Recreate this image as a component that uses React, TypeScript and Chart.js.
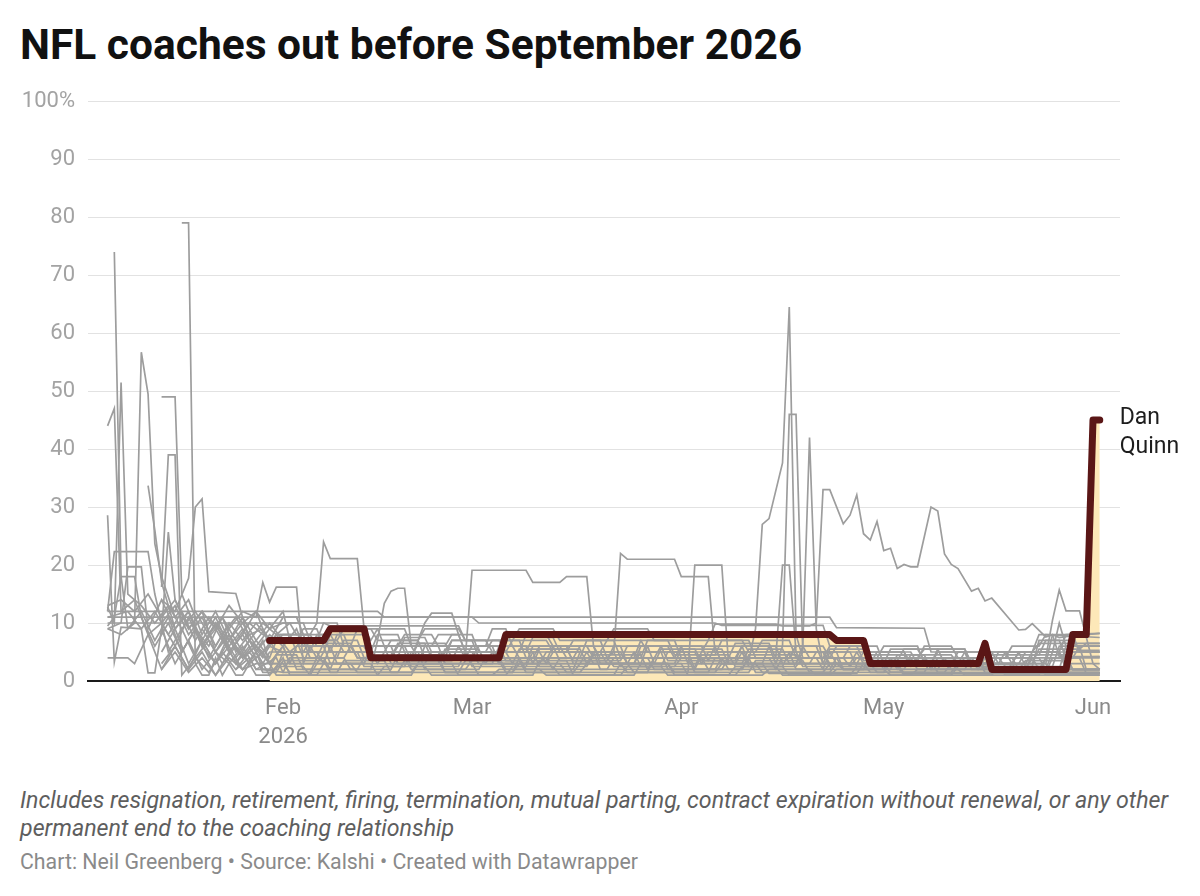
import React, { useEffect, useRef } from "react";
import { Chart, registerables } from "chart.js";

Chart.register(...registerables);

// x values are day-of-year 2026 (Jan 1 = 1, Feb 1 = 32, Mar 1 = 60, Apr 1 = 91, May 1 = 121, Jun 1 = 152)
const monthTickDays = [32, 60, 91, 121, 152];
const monthTickLabels: (string | string[])[] = [["Feb", "2026"], "Mar", "Apr", "May", "Jun"];
const yTickValues = [0, 10, 20, 30, 40, 50, 60, 70, 80, 90, 100];

const highlightName = ["Dan", "Quinn"];
const danQuinn = [[30, 7], [38, 7], [39, 9], [44, 9], [45, 4], [64, 4], [65, 8], [113, 8], [114, 7], [118, 7], [119, 3], [135, 3], [136, 6.5], [137, 2], [148, 2], [149, 8], [151, 8], [152, 45], [153, 45]];

const s01 = [[6, 44], [7, 47], [8, 12], [10, 14], [12, 8], [14, 10], [15, 5], [17, 9], [19, 4], [21, 7], [23, 3], [25, 6], [27, 3], [29, 7], [30, 3], [33, 3], [34, 6], [38, 6], [39, 3], [46, 3], [47, 5], [52, 5], [53, 2], [61, 2], [62, 4], [69, 4], [70, 6], [74, 6], [75, 3], [83, 3], [84, 5], [88, 5], [89, 2], [97, 2], [98, 4], [104, 4], [105, 2], [112, 2], [113, 5], [117, 5], [118, 3], [128, 3], [129, 5], [133, 5], [134, 2], [142, 2], [143, 4], [149, 4], [150, 6], [153, 6]];
const s02 = [[6, 28.6], [7, 3.3], [8, 9.3], [11, 9], [12, 1.4], [13, 1.4], [14, 9], [16, 3], [18, 7], [20, 2], [22, 5], [24, 3], [26, 6], [28, 2], [31, 4], [32, 1.5], [36, 1.5], [37, 4], [41, 4], [42, 2], [48, 2], [49, 4.5], [55, 4.5], [56, 1.5], [66, 1.5], [67, 3], [73, 3], [74, 1.5], [86, 1.5], [87, 4], [92, 4], [93, 1.5], [101, 1.5], [102, 3.5], [109, 3.5], [110, 1.5], [121, 1.5], [122, 3.5], [128, 3.5], [129, 1.5], [139, 1.5], [140, 3], [145, 3], [146, 1.3], [153, 1.3]];
const s03 = [[7, 74], [8, 18], [9, 9], [11, 12], [13, 7], [15, 11], [17, 5], [19, 9], [21, 6], [23, 11], [25, 5], [27, 8], [29, 9], [31, 5], [35, 5], [36, 7], [40, 7], [41, 5], [47, 5], [48, 7], [52, 7], [53, 4], [60, 4], [61, 6], [66, 6], [67, 4], [76, 4], [77, 7], [81, 7], [82, 4], [90, 4], [91, 6], [96, 6], [97, 3], [103, 3], [104, 6], [109, 6], [110, 4], [115, 4], [116, 2.5], [124, 2.5], [125, 4.5], [131, 4.5], [132, 3], [140, 3], [141, 5], [147, 5], [148, 8], [153, 8.2]];
const s04 = [[6, 12.8], [7, 10], [8, 51.5], [9, 15], [11, 13], [13, 10], [15, 13], [17, 9], [19, 12], [21, 8], [23, 11], [25, 7], [27, 10], [29, 8], [31, 7], [32, 8], [36, 8], [37, 6], [42, 6], [43, 9], [46, 9], [47, 6], [54, 6], [55, 8], [58, 8], [59, 5], [65, 5], [66, 7], [71, 7], [72, 5], [79, 5], [80, 7], [85, 7], [86, 5], [94, 5], [95, 7], [100, 7], [101, 5], [108, 5], [109, 3], [116, 3], [117, 5], [124, 5], [125, 3], [136, 3], [137, 4.5], [144, 4.5], [145, 7], [149, 7], [150, 5.3], [153, 5.3]];
const s05 = [[6, 9], [8, 8], [10, 10], [11, 56.7], [12, 49.5], [13, 23.7], [14, 18], [16, 11], [18, 14], [20, 8], [22, 12], [24, 7], [26, 10], [28, 6], [30, 9], [32, 12], [33, 7], [37, 7], [38, 10], [40, 10], [41, 6], [49, 6], [50, 8], [54, 8], [55, 6], [62, 6], [63, 9], [65, 9], [66, 6], [72, 6], [73, 3.5], [82, 3.5], [83, 6], [89, 6], [90, 4], [98, 4], [99, 6.5], [104, 6.5], [105, 4], [112, 4], [113, 6], [118, 6], [119, 4], [127, 4], [128, 2.5], [137, 2.5], [138, 5], [143, 5], [144, 8], [146, 8], [147, 4.2], [153, 4.2]];
const s06 = [[12, 33.7], [13, 26], [14, 17], [16, 9], [18, 12], [20, 6], [22, 10], [24, 5], [26, 8], [28, 4], [30, 6], [32, 5], [36, 5], [37, 8], [39, 8], [40, 6], [44, 6], [45, 4], [51, 4], [52, 6.5], [56, 6.5], [57, 4], [64, 4], [65, 2], [72, 2], [73, 4], [80, 4], [81, 2.5], [88, 2.5], [89, 5], [93, 5], [94, 3], [100, 3], [101, 5.5], [106, 5.5], [107, 3], [114, 3], [115, 2], [124, 2], [125, 4], [130, 4], [131, 2], [141, 2], [142, 3.5], [148, 3.5], [149, 1.9], [153, 1.9]];
const s07 = [[14, 49], [16, 49], [17, 15], [18, 12], [20, 7], [22, 11], [24, 6], [26, 9], [28, 5], [30, 8], [32, 6], [34, 9], [35, 6], [39, 6], [40, 3], [44, 3], [45, 6], [50, 6], [51, 3.5], [57, 3.5], [58, 6], [63, 6], [64, 3], [70, 3], [71, 5], [77, 5], [78, 3], [85, 3], [86, 6], [91, 6], [92, 3], [99, 3], [100, 5], [107, 5], [108, 2], [113, 2], [114, 4], [120, 4], [121, 6], [126, 6], [127, 3], [135, 3], [136, 5], [141, 5], [142, 2.5], [148, 2.5], [149, 5], [153, 5]];
const s08 = [[14, 16.2], [15, 39], [16, 39], [17, 1], [19, 4], [21, 1.5], [23, 5], [25, 2], [27, 4], [28, 2], [30, 2], [31, 4.5], [34, 4.5], [35, 2], [43, 2], [44, 4], [50, 4], [51, 2], [59, 2], [60, 3.5], [67, 3.5], [68, 1.5], [76, 1.5], [77, 3], [83, 3], [84, 1.5], [95, 1.5], [96, 4], [101, 4], [102, 1.5], [113, 1.5], [114, 3], [119, 3], [120, 1.5], [130, 1.5], [131, 3], [137, 3], [138, 1.5], [153, 1.5]];
const s09 = [[17, 79], [18, 79], [19, 3], [20, 1], [21, 1], [22, 4], [23, 1], [24, 3], [25, 1], [26, 1], [27, 3], [28, 1], [30, 1], [31, 2.5], [35, 2.5], [36, 1], [46, 1], [47, 2.5], [53, 2.5], [54, 1], [63, 1], [64, 2], [70, 2], [71, 1], [82, 1], [83, 2.5], [88, 2.5], [89, 1], [103, 1], [104, 2], [110, 2], [111, 1], [125, 1], [126, 2], [132, 2], [133, 1], [153, 1]];
const s10 = [[14, 14], [16, 12], [18, 17.7], [19, 30], [20, 31.4], [21, 15.4], [25, 15.1], [26, 11], [27, 7], [29, 5], [31, 8], [33, 5], [35, 7], [36, 4], [40, 4], [41, 7], [43, 7], [44, 4], [49, 4], [50, 7.5], [53, 7.5], [54, 5], [60, 5], [61, 3], [66, 3], [67, 5.5], [74, 5.5], [75, 3.5], [80, 3.5], [81, 6], [86, 6], [87, 3], [94, 3], [95, 5], [102, 5], [103, 7], [107, 7], [108, 4], [113, 4], [114, 6], [117, 6], [118, 3.5], [123, 3.5], [124, 5.5], [129, 5.5], [130, 3], [138, 3], [139, 5], [143, 5], [144, 6.5], [153, 6.5]];
const s11 = [[6, 12], [7, 22.3], [12, 22.3], [13, 15], [14, 10], [16, 13], [18, 8], [20, 11], [22, 6], [24, 10], [26, 7], [28, 10], [30, 7], [32, 11], [34, 11], [35, 8], [38, 8], [39, 5], [45, 5], [46, 8], [49, 8], [50, 5], [56, 5], [57, 7], [62, 7], [63, 5], [68, 5], [69, 7.5], [72, 7.5], [73, 5], [79, 5], [80, 3], [87, 3], [88, 5.5], [93, 5.5], [94, 3.5], [99, 3.5], [100, 6], [105, 6], [106, 3], [112, 3], [113, 5.5], [118, 5.5], [119, 4], [125, 4], [126, 2], [133, 2], [134, 4], [140, 4], [141, 2], [145, 2], [146, 5], [153, 5]];
const s12 = [[14, 8], [15, 25.7], [16, 14], [18, 9], [20, 12], [22, 5], [24, 9], [26, 12], [28, 11], [29, 17], [30, 13.6], [31, 16.2], [34, 16.2], [35, 3], [36, 6], [37, 4], [38, 6.5], [42, 6.5], [43, 4], [48, 4], [49, 6], [55, 6], [56, 3], [62, 3], [63, 5], [69, 5], [70, 2.5], [77, 2.5], [78, 4.5], [85, 4.5], [86, 2], [93, 2], [94, 4.5], [98, 4.5], [99, 2.5], [106, 2.5], [107, 5], [112, 5], [113, 3], [121, 3], [122, 5.5], [126, 5.5], [127, 3.5], [134, 3.5], [135, 2], [142, 2], [143, 4.5], [148, 4.5], [149, 2], [153, 2]];
const s13 = [[6, 11], [9, 12], [11, 9], [13, 12], [15, 8], [17, 12], [19, 7], [21, 11], [23, 8], [25, 11], [27, 7], [29, 10], [31, 8], [33, 10], [34, 8], [36, 8], [37, 10], [38, 24], [39, 21.1], [43, 21.1], [44, 9], [45, 7], [46, 9], [50, 9], [51, 6], [56, 6], [57, 8], [60, 8], [61, 5], [67, 5], [68, 8], [71, 8], [72, 6], [78, 6], [79, 4], [85, 4], [86, 7], [90, 7], [91, 4], [99, 4], [100, 6], [104, 6], [105, 3], [110, 3], [111, 5], [116, 5], [117, 2.5], [125, 2.5], [126, 4], [134, 4], [135, 2.5], [143, 2.5], [144, 7], [147, 7], [148, 4], [153, 4]];
const s14 = [[25, 2], [27, 5], [29, 2], [32, 1.5], [33, 4], [38, 4], [39, 2], [45, 2], [46, 7], [47, 13.4], [48, 15.5], [49, 16], [50, 16], [51, 6], [52, 4], [56, 4], [57, 7], [60, 7], [61, 4], [67, 4], [68, 2], [75, 2], [76, 5], [81, 5], [82, 2.5], [90, 2.5], [91, 4], [97, 4], [98, 2], [105, 2], [106, 4], [111, 4], [112, 2], [118, 2], [119, 4.5], [124, 4.5], [125, 2.5], [132, 2.5], [133, 4], [138, 4], [139, 2.5], [146, 2.5], [147, 6], [150, 6], [151, 2], [153, 2]];
const s15 = [[20, 6], [22, 3], [24, 7], [26, 4], [28, 6], [30, 3], [32, 6], [33, 3], [38, 3], [39, 6], [44, 6], [45, 4], [51, 4], [52, 7], [53, 10], [54, 11.7], [57, 11.7], [58, 8], [59, 5], [63, 5], [64, 3], [69, 3], [70, 5.5], [76, 5.5], [77, 3], [84, 3], [85, 5], [92, 5], [93, 2], [100, 2], [101, 4], [107, 4], [108, 6], [112, 6], [113, 4], [120, 4], [121, 2], [128, 2], [129, 4], [135, 4], [136, 2], [144, 2], [145, 4], [150, 4], [151, 1.3], [153, 1.3]];
const s16 = [[25, 4], [27, 7], [29, 3], [30, 5], [33, 5], [34, 2], [39, 2], [40, 5], [45, 5], [46, 3], [52, 3], [53, 6], [58, 6], [59, 4], [60, 19.1], [68, 19.1], [69, 17], [73, 17], [74, 18], [77, 18], [78, 6], [79, 3], [84, 3], [85, 6], [88, 6], [89, 3.5], [95, 3.5], [96, 6], [100, 6], [101, 3], [108, 3], [109, 5], [114, 5], [115, 2], [122, 2], [123, 4.5], [127, 4.5], [128, 2], [136, 2], [137, 4], [144, 4], [145, 2], [153, 2]];
const s17 = [[14, 3], [16, 6], [18, 2], [20, 7], [22, 3], [24, 6], [26, 2], [28, 5], [29, 2], [31, 2], [32, 5], [37, 5], [38, 3], [44, 3], [45, 6], [48, 6], [49, 3], [55, 3], [56, 5.5], [61, 5.5], [62, 3], [68, 3], [69, 6], [73, 6], [74, 4], [80, 4], [81, 5], [82, 22], [83, 21], [90, 21], [91, 18], [95, 18], [96, 5], [100, 5], [101, 2.5], [108, 2.5], [109, 4], [115, 4], [116, 6], [120, 6], [121, 3], [128, 3], [129, 5.5], [133, 5.5], [134, 3], [142, 3], [143, 5], [147, 5], [148, 3], [153, 3]];
const s18 = [[25, 7], [27, 3], [29, 5], [30, 3], [32, 3], [33, 1.5], [40, 1.5], [41, 3.5], [47, 3.5], [48, 1.5], [58, 1.5], [59, 3.5], [64, 3.5], [65, 1.5], [75, 1.5], [76, 3], [82, 3], [83, 1.5], [92, 1.5], [93, 20], [97, 20], [98, 3], [102, 3], [103, 1.5], [112, 1.5], [113, 3], [121, 3], [122, 1.5], [131, 1.5], [132, 3], [140, 3], [141, 1.5], [153, 1.5]];
const s19 = [[20, 9], [22, 5], [24, 8], [26, 4], [28, 7], [30, 4], [31, 7], [34, 7], [35, 4], [41, 4], [42, 6], [47, 6], [48, 3], [53, 3], [54, 5], [59, 5], [60, 2.5], [68, 2.5], [69, 5], [74, 5], [75, 7], [79, 7], [80, 4], [87, 4], [88, 6], [94, 6], [95, 3.5], [101, 3.5], [102, 9], [103, 27], [104, 28], [106, 37.6], [107, 64.5], [108, 8], [109, 4], [114, 4], [115, 2], [121, 2], [122, 4], [126, 4], [127, 5.5], [133, 5.5], [134, 3], [141, 3], [142, 5], [146, 5], [147, 10], [148, 6], [153, 6]];
const s20 = [[14, 10], [16, 6], [18, 11], [20, 6], [22, 9], [24, 5], [26, 8], [28, 12], [30, 6], [31, 8], [33, 8], [34, 5], [38, 5], [39, 8], [41, 8], [42, 5], [48, 5], [49, 3], [55, 3], [56, 5], [62, 5], [63, 7], [67, 7], [68, 4], [75, 4], [76, 6], [82, 6], [83, 3], [90, 3], [91, 5.5], [97, 5.5], [98, 3], [105, 3], [106, 6], [107, 46], [108, 46], [109, 5], [113, 5], [114, 3], [119, 3], [120, 5], [125, 5], [126, 3], [132, 3], [133, 5], [139, 5], [140, 3], [145, 3], [146, 8], [149, 8], [150, 5], [153, 5]];
const s21 = [[25, 3], [27, 6], [29, 1.5], [31, 1.5], [32, 3.5], [38, 3.5], [39, 1.5], [49, 1.5], [50, 3.5], [55, 3.5], [56, 1.5], [66, 1.5], [67, 4], [71, 4], [72, 2], [80, 2], [81, 4], [86, 4], [87, 2], [96, 2], [97, 4], [105, 4], [106, 20], [107, 20], [108, 5], [112, 5], [113, 2.5], [120, 2.5], [121, 4], [127, 4], [128, 2], [135, 2], [136, 4], [143, 4], [144, 2], [153, 2]];
const s22 = [[14, 5], [16, 9], [18, 3], [20, 7], [22, 3], [24, 8], [26, 4], [28, 6], [30, 3], [32, 6], [33, 3], [37, 3], [38, 5], [43, 5], [44, 2.5], [50, 2.5], [51, 5], [55, 5], [56, 3], [63, 3], [64, 6], [68, 6], [69, 3], [76, 3], [77, 5], [84, 5], [85, 2.5], [93, 2.5], [94, 5], [100, 5], [101, 3], [108, 3], [109, 6], [110, 42], [111, 9], [112, 3], [118, 3], [119, 1.5], [127, 1.5], [128, 3.5], [135, 3.5], [136, 1.5], [145, 1.5], [146, 4], [153, 4.2]];
const s23 = [[6, 13], [8, 14], [10, 12], [12, 15], [14, 11], [16, 14], [18, 9], [20, 12], [22, 9], [24, 13], [26, 10], [28, 12], [30, 9], [32, 10], [35, 10], [36, 7], [40, 7], [41, 9], [45, 9], [46, 7], [52, 7], [53, 9], [58, 9], [59, 7], [66, 7], [67, 9], [72, 9], [73, 7], [80, 7], [81, 9], [86, 9], [87, 7], [95, 7], [96, 9.8], [105, 9.8], [106, 9.5], [110, 9.5], [111, 10], [112, 33], [113, 33], [115, 27.1], [116, 28.6], [117, 32.1], [118, 25.4], [119, 24.3], [120, 27.5], [121, 22.5], [122, 22.9], [123, 19.4], [124, 20.1], [125, 19.7], [126, 19.7], [128, 30], [129, 29.3], [130, 21.9], [131, 20.1], [132, 19.4], [134, 15.5], [135, 16], [136, 13.8], [137, 14.3], [141, 8.8], [142, 8.9], [143, 9.9], [145, 7.6], [146, 8], [147, 7.5], [149, 7.8], [151, 8], [153, 8.2]];
const s24 = [[6, 12], [46, 12], [47, 11], [113, 11], [114, 9.2], [127, 9.1], [128, 5], [133, 5], [134, 3], [140, 3], [141, 5], [147, 5], [148, 2], [153, 2]];
const s25 = [[6, 11], [60, 11], [61, 10], [96, 10], [97, 9.6], [112, 9.6], [113, 6], [118, 6], [119, 3.5], [126, 3.5], [127, 6], [131, 6], [132, 4], [139, 4], [140, 6], [144, 6], [145, 8], [153, 7.5]];
const s26 = [[6, 10], [38, 10], [39, 9.5], [58, 9.5], [59, 7], [64, 7], [65, 5], [70, 5], [71, 3], [77, 3], [78, 5], [82, 5], [83, 3], [89, 3], [90, 1.5], [96, 1.5], [97, 3], [103, 3], [104, 1.3], [117, 1.3], [118, 3], [123, 3], [124, 1.3], [153, 1.3]];
const s27 = [[6, 4], [9, 4], [10, 3], [12, 8], [14, 2], [16, 6], [18, 2], [20, 5], [22, 1], [24, 4], [26, 2], [28, 5], [30, 1], [32, 4], [33, 1], [37, 1], [38, 3], [45, 3], [46, 1], [51, 1], [52, 3], [60, 3], [61, 1], [69, 1], [70, 3.5], [74, 3.5], [75, 1], [84, 1], [85, 3], [91, 3], [92, 1], [99, 1], [100, 2.5], [106, 2.5], [107, 1], [116, 1], [117, 2.5], [123, 2.5], [124, 1], [137, 1], [138, 2.5], [144, 2.5], [145, 1], [153, 1]];
const s28 = [[14, 2], [16, 5], [18, 1.5], [20, 4], [22, 1], [24, 5], [26, 2], [28, 3], [30, 3], [31, 1], [36, 1], [37, 3], [42, 3], [43, 1.5], [51, 1.5], [52, 3], [57, 3], [58, 1], [65, 1], [66, 2.5], [72, 2.5], [73, 1], [81, 1], [82, 3], [89, 3], [90, 1], [98, 1], [99, 2.5], [105, 2.5], [106, 1], [113, 1], [114, 2], [121, 2], [122, 1], [131, 1], [132, 2.5], [138, 2.5], [139, 1], [144, 1], [145, 4], [146, 10.5], [147, 15.7], [148, 12.1], [150, 12.1], [151, 7.6], [152, 3], [153, 2]];
const s29 = [[6, 9], [8, 10], [9, 19.7], [11, 19.7], [12, 9], [14, 14], [16, 9], [18, 12], [20, 6], [22, 10], [24, 7], [26, 11], [28, 7], [30, 10], [32, 7], [34, 7], [35, 9], [37, 9], [38, 6], [42, 6], [43, 4], [48, 4], [49, 6.5], [53, 6.5], [54, 4], [59, 4], [60, 6], [64, 6], [65, 3.5], [71, 3.5], [72, 6], [77, 6], [78, 4], [84, 4], [85, 7], [89, 7], [90, 4.5], [96, 4.5], [97, 7], [101, 7], [102, 4], [107, 4], [108, 6], [111, 6], [112, 3], [117, 3], [118, 5], [124, 5], [125, 3], [131, 3], [132, 5], [137, 5], [138, 3], [143, 3], [144, 5.5], [150, 5.5], [151, 6.5], [153, 6.5]];
const s30 = [[6, 9.5], [7, 11], [8, 18], [10, 18], [11, 11], [13, 6], [15, 10], [17, 5], [19, 9], [21, 4], [23, 8], [25, 3], [27, 7], [29, 4], [31, 8], [32, 8], [35, 8], [36, 5], [39, 5], [40, 8], [44, 8], [45, 5], [50, 5], [51, 2.5], [58, 2.5], [59, 5], [65, 5], [66, 3], [71, 3], [72, 5], [78, 5], [79, 2], [86, 2], [87, 4], [94, 4], [95, 2], [100, 2], [101, 4.5], [108, 4.5], [109, 2.5], [116, 2.5], [117, 4], [122, 4], [123, 2], [129, 2], [130, 4], [136, 4], [137, 2], [147, 2], [148, 6], [153, 6]];

const otherCoaches = [s01, s02, s03, s04, s05, s06, s07, s08, s09, s10, s11, s12, s13, s14, s15, s16, s17, s18, s19, s20, s21, s22, s23, s24, s25, s26, s27, s28, s29, s30];

const toXY = (s: number[][]) => s.map(([x, y]) => ({ x, y }));

const FONT = "Roboto, 'Noto Sans', sans-serif";

const labelPlugin = {
  id: "hlLabel",
  afterDatasetsDraw(chart: any) {
    const { ctx } = chart;
    const last = danQuinn[danQuinn.length - 1];
    const x = chart.scales.x.getPixelForValue(last[0]) + 20;
    const y = chart.scales.y.getPixelForValue(last[1]);
    ctx.save();
    ctx.font = `23px ${FONT}`;
    ctx.fillStyle = "#1d1d1d";
    ctx.textBaseline = "middle";
    ctx.textAlign = "left";
    ctx.fillText(highlightName[0], x, y - 2);
    ctx.fillText(highlightName[1], x, y + 27);
    ctx.restore();
  },
};

function NflChart() {
  const ref = useRef<HTMLCanvasElement | null>(null);
  useEffect(() => {
    if (!ref.current) return;
    const datasets: any[] = [
      {
        label: highlightName.join(" "),
        data: toXY(danQuinn),
        borderColor: "#5a1616",
        backgroundColor: "rgb(253, 232, 184)",
        borderWidth: 7,
        borderCapStyle: "round",
        borderJoinStyle: "round",
        pointRadius: 0,
        fill: "origin",
        order: 0,
      },
      ...otherCoaches.map((s, i) => ({
        label: `coach ${i + 1}`,
        data: toXY(s),
        borderColor: "#9d9d9d",
        borderWidth: 1.7,
        pointRadius: 0,
        fill: false,
        order: 1,
      })),
    ];
    const chart = new Chart(ref.current, {
      type: "line",
      data: { datasets },
      options: {
        animation: false,
        responsive: false,
        maintainAspectRatio: false,
        devicePixelRatio: 1,
        layout: { padding: { top: 15, right: 80, left: 0, bottom: 0 } },
        plugins: {
          legend: { display: false },
          tooltip: { enabled: false },
          filler: { drawTime: "beforeDatasetsDraw" },
        } as any,
        scales: {
          x: {
            type: "linear",
            min: 3.1,
            max: 156,
            afterBuildTicks: (scale: any) => {
              scale.ticks = monthTickDays.map((v) => ({ value: v }));
            },
            afterFit: (scale: any) => {
              scale.height = 75;
            },
            ticks: {
              autoSkip: false,
              maxRotation: 0,
              padding: 13,
              color: "#8a8a8a",
              font: { family: FONT, size: 22, lineHeight: 1.32 },
              callback: (v: any) => {
                const i = monthTickDays.indexOf(Number(v));
                return i >= 0 ? monthTickLabels[i] : "";
              },
            },
            grid: { display: false, drawTicks: false },
            border: { display: true, color: "#1a1a1a", width: 2 },
          },
          y: {
            min: 0,
            max: 100,
            afterBuildTicks: (scale: any) => {
              scale.ticks = yTickValues.map((v) => ({ value: v }));
            },
            afterFit: (scale: any) => {
              scale.width = 88;
            },
            ticks: {
              padding: 13,
              color: "#a3a3a3",
              font: { family: FONT, size: 22 },
              callback: (v: any) => (Number(v) === 100 ? "100%" : String(v)),
            },
            grid: { color: "#e2e2e2", lineWidth: 1, drawTicks: false },
            border: { display: false },
          },
        },
      },
      plugins: [labelPlugin],
    });
    return () => chart.destroy();
  }, []);
  return (
    <canvas
      ref={ref}
      width={1200}
      height={681}
      style={{ position: "absolute", left: 0, top: 75, width: 1200, height: 681 }}
    />
  );
}

export default function App() {
  return (
    <div
      style={{
        position: "absolute",
        left: 0,
        top: 0,
        width: 1200,
        height: 896,
        background: "#fff",
        fontFamily: FONT,
        overflow: "hidden",
      }}
    >
      <div
        style={{
          position: "absolute",
          left: 20,
          top: 19,
          fontSize: 42.5,
          lineHeight: "52px",
          fontWeight: 700,
          color: "#111",
          whiteSpace: "nowrap",
        }}
      >
        NFL coaches out before September 2026
      </div>
      <NflChart />
      <div
        style={{
          position: "absolute",
          left: 20,
          top: 786,
          fontSize: 23.2,
          lineHeight: "28px",
          fontStyle: "italic",
          color: "#5e5e5e",
          whiteSpace: "nowrap",
        }}
      >
        Includes resignation, retirement, firing, termination, mutual parting, contract expiration without renewal, or any other
        <br />
        permanent end to the coaching relationship
      </div>
      <div
        style={{
          position: "absolute",
          left: 20,
          top: 849,
          fontSize: 21.3,
          lineHeight: "26px",
          color: "#8a8a8a",
          whiteSpace: "nowrap",
        }}
      >
        Chart: Neil Greenberg • Source: Kalshi • Created with Datawrapper
      </div>
    </div>
  );
}
